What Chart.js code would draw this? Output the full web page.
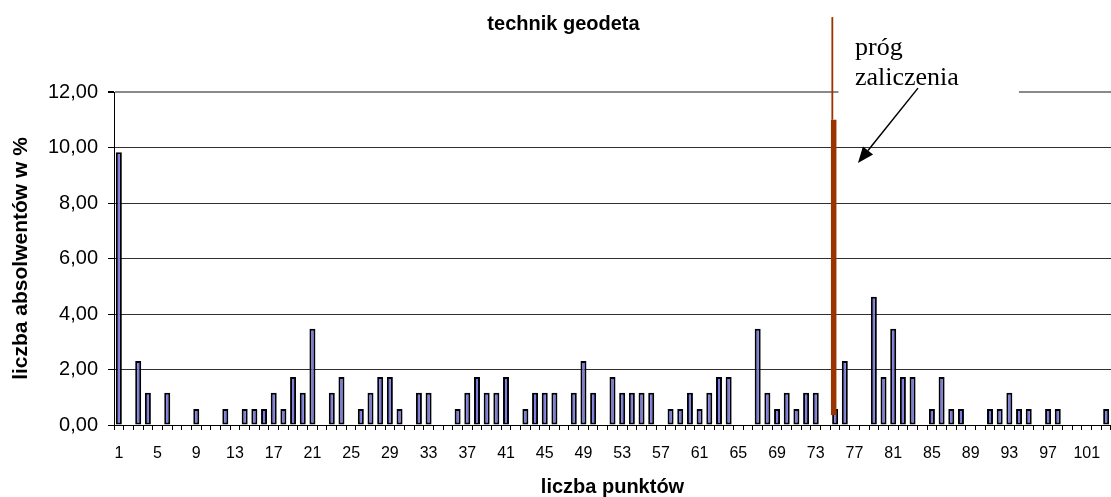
<!DOCTYPE html>
<html><head><meta charset="utf-8">
<script src="https://cdn.jsdelivr.net/npm/chart.js@4.4.1/dist/chart.umd.min.js"></script>
<style>html,body{margin:0;padding:0;background:#fff;}#wrap{width:1111px;height:497px;}</style>
</head><body><div id="wrap"><canvas id="c" width="1111" height="497"></canvas></div>
<script>
const categories = ['1','2','3','4','5','6','7','8','9','10','11','12','13','14','15','16','17','18','19','20',
 '21','22','23','24','25','26','27','28','29','30','31','32','33','34','35','36','37','38','39','40',
 '41','42','43','44','45','46','47','48','49','50','51','52','53','54','55','56','57','58','59','60',
 '61','62','63','64','65','66','67','68','69','70','71','72','73','74','75','76','77','78','79','80',
 '81','82','83','84','85','86','87','88','89','90','91','92','93','94','95','96','97','98','99','100',
 '101','102','103'];
const percentValues = [
 9.83,0,2.31,1.16,0,1.16,0,0,0.58,0,
 0,0.58,0,0.58,0.58,0.58,1.16,0.58,1.73,1.16,
 3.47,0,1.16,1.73,0,0.58,1.16,1.73,1.73,0.58,
 0,1.16,1.16,0,0,0.58,1.16,1.73,1.16,1.16,
 1.73,0,0.58,1.16,1.16,1.16,0,1.16,2.31,1.16,
 0,1.73,1.16,1.16,1.16,1.16,0,0.58,0.58,1.16,
 0.58,1.16,1.73,1.73,0,0,3.47,1.16,0.58,1.16,
 0.58,1.16,1.16,0,0.58,2.31,0,0,4.62,1.73,
 3.47,1.73,1.73,0,0.58,1.73,0.58,0.58,0,0,
 0.58,0.58,1.16,0.58,0.58,0,0.58,0.58,0,0,
 0,0,0.58];
const yTicks = [0,2,4,6,8,10,12];
const chartTitle = 'technik geodeta';
const xTitle = 'liczba punktów';
const yTitle = 'liczba absolwentów w %';
const thresholdCategory = '75';
const thresholdBarTop = 11;
const thresholdBarBottom = 0.36;
const thresholdLineTop = 14.7;
const noteLines = ['próg','zaliczenia'];

const fmt = v => v.toFixed(2).replace('.', ',');

const annot = {
  id: 'annot',
  afterDatasetsDraw(chart) {
    const {ctx, chartArea} = chart;
    const xs = chart.scales.x, ys = chart.scales.y;
    const px = i => xs.getPixelForValue(i);
    const py = v => ys.getPixelForValue(v);
    ctx.save();
    // title
    ctx.fillStyle = '#000';
    ctx.font = 'bold 20px "Liberation Sans", Arial, sans-serif';
    ctx.textAlign = 'center';
    ctx.textBaseline = 'alphabetic';
    ctx.fillText(chartTitle, chart.width / 2 + 8, chartArea.top - 62.5);
    // note box (white, covers grid line)
    const bx0 = px(74.34), bx1 = px(92.99);
    ctx.fillStyle = '#fff';
    ctx.fillRect(bx0, py(14.3), bx1 - bx0, py(11.86) - py(14.3));
    ctx.fillStyle = '#000';
    ctx.font = '26px "Liberation Serif", "Times New Roman", serif';
    ctx.textAlign = 'left';
    ctx.fillText(noteLines[0], px(76.05), py(13.33));
    ctx.fillText(noteLines[1], px(76.05), py(12.25));
    // arrow
    const ax0 = px(82.56), ay0 = py(12.14), ax1 = px(76.36), ay1 = py(9.44);
    const ang = Math.atan2(ay1 - ay0, ax1 - ax0);
    const hl = 16, hw = 6.5;
    const bxh = ax1 - hl * Math.cos(ang), byh = ay1 - hl * Math.sin(ang);
    ctx.strokeStyle = '#000';
    ctx.lineWidth = 1.5;
    ctx.beginPath(); ctx.moveTo(ax0, ay0); ctx.lineTo(bxh, byh); ctx.stroke();
    ctx.beginPath();
    ctx.moveTo(ax1, ay1);
    ctx.lineTo(bxh + hw * Math.sin(ang), byh - hw * Math.cos(ang));
    ctx.lineTo(bxh - hw * Math.sin(ang), byh + hw * Math.cos(ang));
    ctx.closePath(); ctx.fill();
    // threshold line
    const tIdx = categories.indexOf(thresholdCategory);
    const cx = px(tIdx) - 1.5;
    ctx.fillStyle = '#993300';
    ctx.fillRect(cx - 2.7, py(thresholdBarTop), 5.5, py(thresholdBarBottom) - py(thresholdBarTop));
    ctx.fillRect(cx - 2.2, py(thresholdLineTop), 1.8, py(thresholdBarTop) - py(thresholdLineTop));
    ctx.restore();
  }
};

new Chart(document.getElementById('c'), {
  type: 'bar',
  data: {
    labels: categories,
    datasets: [{
      data: percentValues,
      backgroundColor: '#7C7CE0',
      borderColor: '#000',
      borderWidth: 2,
      borderSkipped: false,
      barPercentage: 0.62,
      categoryPercentage: 1.0
    }]
  },
  options: {
    responsive: false,
    animation: false,
    devicePixelRatio: 1,
    layout: {padding: {top: 92, left: 0, right: 0, bottom: 0}},
    plugins: {legend: {display: false}, tooltip: {enabled: false}, title: {display: false}},
    scales: {
      x: {
        offset: true,
        afterFit: s => { s.height = 72; s.paddingRight = 0; s.paddingLeft = 0; },
        grid: {display: true, offset: true, drawOnChartArea: false, drawTicks: true, tickLength: 5, tickColor: '#000', tickWidth: 1},
        border: {display: true, color: '#000', width: 1},
        ticks: {
          autoSkip: false, maxRotation: 0, minRotation: 0, padding: 14,
          color: '#000', font: {family: '"Liberation Sans", Arial, sans-serif', size: 16},
          callback: (v, i) => (i % 4 === 0 ? categories[i] : '')
        },
        title: {display: true, text: xTitle, color: '#000', padding: {top: 0, bottom: 0},
          font: {family: '"Liberation Sans", Arial, sans-serif', size: 20, weight: 'bold', lineHeight: 1}}
      },
      y: {
        min: 0, max: 12,
        afterFit: s => { s.width = 114; },
        afterBuildTicks: s => { s.ticks = yTicks.map(v => ({value: v})); },
        grid: {
          color: c => (c.tick && c.tick.value === 12 ? '#8a8a8a' : '#303030'),
          lineWidth: c => (c.tick && c.tick.value === 12 ? 2 : 1),
          drawTicks: true, tickLength: 6, tickColor: '#000'
        },
        border: {display: true, color: '#000', width: 1},
        ticks: {padding: 10, color: '#000', font: {family: '"Liberation Sans", Arial, sans-serif', size: 20},
          callback: v => fmt(v)},
        title: {display: true, text: yTitle, color: '#000', padding: {top: 9, bottom: 0},
          font: {family: '"Liberation Sans", Arial, sans-serif', size: 21, weight: 'bold'}}
      }
    }
  },
  plugins: [annot]
});
</script></body></html>
